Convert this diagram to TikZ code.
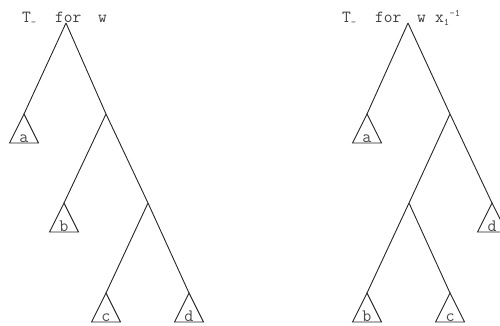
\documentclass[tikz,border=0pt]{standalone}
\usepackage{fontspec}
\setmonofont{Latin Modern Mono}
\usetikzlibrary{calc}
\newcommand{\smallsub}[1]{\raisebox{-3pt}{\fontsize{10}{10}\selectfont #1}}
\newcommand{\smallsup}[1]{\raisebox{6pt}{\fontsize{10}{10}\selectfont #1}}
\begin{document}
\begin{tikzpicture}[x=1pt,y=-1pt,
  edge/.style={line width=0.9pt,black!85},
  tri/.style={line width=0.9pt,black!85},
  lbl/.style={font=\ttfamily\fontsize{17.5}{17.5}\selectfont,text=black!70,inner sep=0pt,anchor=base},
  ttl/.style={font=\ttfamily\fontsize{17}{17}\selectfont,text=black!75,inner sep=0pt,anchor=base west}]
\useasboundingbox (0,0) rectangle (500,325);
% left tree
\coordinate (L0) at (66,23);
\coordinate (La) at (24,114);
\coordinate (L1) at (106,114);
\coordinate (Lb) at (64,203);
\coordinate (L2) at (148,203);
\coordinate (Lc) at (106,293);
\coordinate (Ld) at (189,293);
\node[ttl] (Lt) at (22,22) {\makebox[33pt][l]{T\smallsub{-}}\makebox[43pt][l]{for}w};
\draw[edge] (L0) -- (La) (L0) -- (L1) (L1) -- (Lb) (L1) -- (L2) (L2) -- (Lc) (L2) -- (Ld);
\foreach \p/\t in {La/a,Lb/b,Lc/c,Ld/d}{
  \draw[tri] (\p) -- ++(-14.5,29) -- ++(29,0) -- cycle;
  \node[lbl] (\p l) at ($(\p)+(0,28)$) {\t};
}
% right tree
\coordinate (R0) at (408,23);
\coordinate (Ra) at (367,114);
\coordinate (R1) at (450,114);
\coordinate (R2) at (409,203);
\coordinate (Rd) at (492,203);
\coordinate (Rb) at (367,293);
\coordinate (Rc) at (450,293);
\node[ttl] (Rt) at (342,22) {\makebox[33pt][l]{T\smallsub{-}}\makebox[42pt][l]{for}\makebox[18pt][l]{w}x\smallsub{1}\hspace{0.5pt}\smallsup{-1}};
\draw[edge] (R0) -- (Ra) (R0) -- (R1) (R1) -- (R2) (R1) -- (Rd) (R2) -- (Rb) (R2) -- (Rc);
\foreach \p/\t in {Ra/a,Rb/b,Rc/c,Rd/d}{
  \draw[tri] (\p) -- ++(-14.5,29) -- ++(29,0) -- cycle;
  \node[lbl] (\p l) at ($(\p)+(0,28)$) {\t};
}
\end{tikzpicture}
\end{document}
